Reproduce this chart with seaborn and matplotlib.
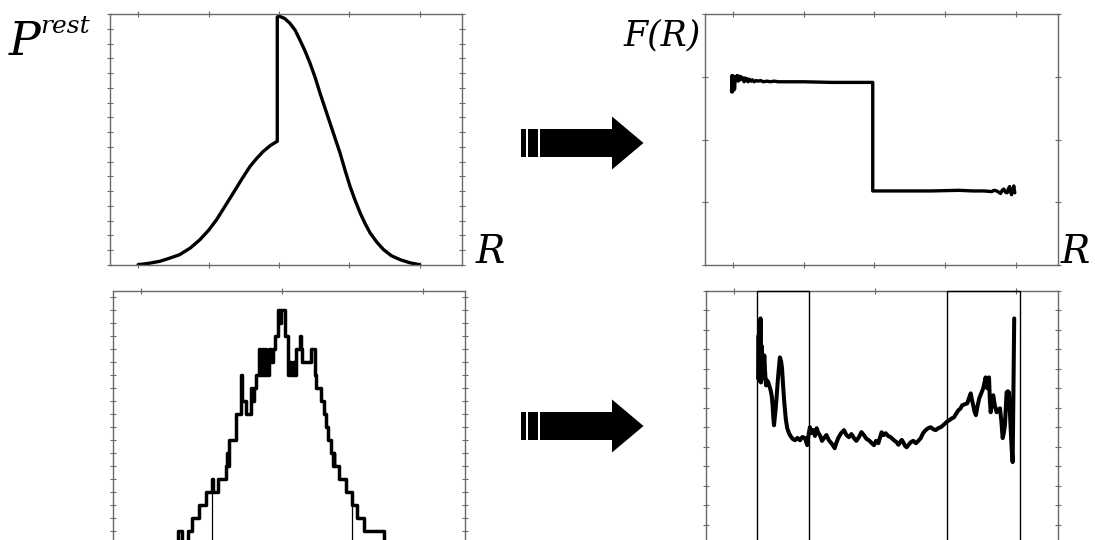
import numpy as np
import pandas as pd
import matplotlib
matplotlib.use("Agg")
import matplotlib.pyplot as plt
import seaborn as sns
from matplotlib.patches import Rectangle

# ---------------- data ----------------
# top-left: P^rest(R)
prest_r = [-1.0, -0.92, -0.847, -0.78, -0.705, -0.63, -0.562, -0.50, -0.443, -0.385,
           -0.325, -0.265, -0.206, -0.16, -0.112, -0.06, -0.012, -0.012, 0.0, 0.04,
           0.078, 0.115, 0.149, 0.185, 0.221, 0.257, 0.292, 0.328, 0.363, 0.398,
           0.434, 0.47, 0.505, 0.54, 0.577, 0.612, 0.648, 0.695, 0.743, 0.80,
           0.861, 0.93, 1.0]
prest_v = [0.02, 0.12, 0.25, 0.45, 0.70, 1.15, 1.71, 2.35, 3.07, 3.95,
           4.87, 5.80, 6.67, 7.20, 7.69, 8.10, 8.38, 16.80, 16.86, 16.70,
           16.37, 15.90, 15.24, 14.50, 13.66, 12.70, 11.63, 10.60, 9.60, 8.60,
           7.58, 6.40, 5.32, 4.40, 3.52, 2.80, 2.16, 1.55, 1.04, 0.62,
           0.36, 0.15, 0.02]

# top-right: F(R)
f_r = [-1.012, -1.008, -1.005, -1.001, -0.998, -0.994, -0.991, -0.986, -0.980, -0.973,
       -0.966, -0.959, -0.952, -0.945, -0.938, -0.930, -0.923, -0.916, -0.909, -0.902,
       -0.895, -0.884, -0.874, -0.863, -0.852, -0.838, -0.824, -0.806, -0.788, -0.760,
       -0.739, -0.710, -0.682, -0.5, -0.3, -0.1, -0.012, -0.012, 0.2, 0.4,
       0.597, 0.70, 0.774, 0.831, 0.848, 0.866, 0.880, 0.893, 0.905, 0.916,
       0.928, 0.940, 0.948, 0.957, 0.964, 0.971, 0.979, 0.987, 0.994]
f_v = [2.76, 3.02, 2.76, 3.01, 2.79, 3.00, 2.80, 2.98, 2.95, 3.02,
       2.93, 3.01, 2.95, 3.00, 2.96, 2.98, 2.92, 2.98, 2.94, 2.97,
       2.92, 2.96, 2.93, 2.95, 2.92, 2.94, 2.93, 2.94, 2.92, 2.93,
       2.92, 2.93, 2.92, 2.92, 2.91, 2.91, 2.91, 1.18, 1.18, 1.18,
       1.19, 1.18, 1.18, 1.17, 1.19, 1.18, 1.16, 1.14, 1.19, 1.21,
       1.16, 1.15, 1.21, 1.25, 1.17, 1.12, 1.20, 1.26, 1.15]

# bottom-left: sampled histogram (bin edges and counts)
hist_edges = [-0.740, -0.712, -0.669, -0.641, -0.591, -0.541, -0.498, -0.488, -0.456, -0.399,
              -0.388, -0.381, -0.377, -0.327, -0.288, -0.281, -0.256, -0.221, -0.210, -0.199,
              -0.185, -0.164, -0.153, -0.142, -0.132, -0.121, -0.114, -0.093, -0.078, -0.064,
              -0.050, -0.028, -0.011, -0.004, 0.021, 0.043, 0.053, 0.064, 0.075, 0.085,
              0.100, 0.128, 0.132, 0.142, 0.206, 0.235, 0.242, 0.278, 0.299, 0.310,
              0.327, 0.349, 0.359, 0.367, 0.370, 0.406, 0.456, 0.495, 0.534, 0.584,
              0.726]
hist_counts = [1, 0, 1, 2, 3, 4, 5, 4, 5, 6,
               7, 6, 8, 10, 13, 11, 10, 12, 11, 12,
               13, 15, 13, 15, 13, 15, 13, 15, 14, 15,
               16, 18, 17, 18, 16, 13, 14, 13, 14, 13,
               15, 16, 15, 14, 15, 13, 12, 11, 10, 9,
               8, 7, 6, 7, 6, 5, 4, 3, 2, 1]
hist_marks_r = [-0.498, 0.498]

# bottom-right: estimated F(R) from the samples
fs_r = [-0.829, -0.826, -0.824, -0.820, -0.817, -0.813, -0.810, -0.806, -0.803, -0.798,
        -0.793, -0.786, -0.780, -0.774, -0.766, -0.758, -0.741, -0.733, -0.727, -0.722,
        -0.717, -0.705, -0.698, -0.691, -0.683, -0.675, -0.667, -0.660, -0.652, -0.644,
        -0.633, -0.623, -0.611, -0.599, -0.584, -0.568, -0.550, -0.533, -0.515, -0.497,
        -0.481, -0.472, -0.462, -0.450, -0.438, -0.426, -0.414, -0.402, -0.391, -0.376,
        -0.362, -0.345, -0.327, -0.306, -0.286, -0.274, -0.261, -0.240, -0.220, -0.203,
        -0.185, -0.167, -0.149, -0.132, -0.114, -0.096, -0.078, -0.060, -0.043, -0.025,
        -0.007, 0.008, 0.024, 0.035, 0.047, 0.062, 0.076, 0.094, 0.111, 0.132,
        0.154, 0.166, 0.178, 0.190, 0.201, 0.213, 0.225, 0.240, 0.254, 0.272,
        0.291, 0.308, 0.325, 0.342, 0.360, 0.378, 0.396, 0.414, 0.431, 0.449,
        0.467, 0.484, 0.500, 0.514, 0.528, 0.545, 0.561, 0.577, 0.592, 0.606,
        0.620, 0.638, 0.656, 0.668, 0.680, 0.689, 0.698, 0.707, 0.717, 0.729,
        0.741, 0.755, 0.769, 0.778, 0.786, 0.792, 0.798, 0.804, 0.810, 0.816,
        0.822, 0.831, 0.840, 0.852, 0.864, 0.876, 0.888, 0.898, 0.907, 0.915,
        0.923, 0.929, 0.935, 0.944, 0.952, 0.958, 0.964, 0.971, 0.978, 0.984,
        0.989]
fs_v = [8.51, 10.72, 8.40, 11.00, 8.51, 11.59, 8.30, 10.20, 9.44, 8.90,
        8.51, 9.69, 8.80, 8.15, 8.40, 8.31, 7.90, 7.60, 7.13, 6.50,
        6.10, 6.97, 7.60, 8.31, 9.00, 9.59, 9.40, 9.03, 8.10, 7.28,
        6.40, 5.95, 5.70, 5.54, 5.40, 5.33, 5.45, 5.33, 5.50, 5.44,
        5.08, 5.60, 6.00, 5.70, 5.85, 5.55, 5.95, 5.70, 5.59, 5.30,
        5.44, 5.60, 5.33, 5.15, 4.92, 5.20, 5.44, 5.70, 5.85, 5.60,
        5.49, 5.65, 5.44, 5.30, 5.49, 5.75, 5.59, 5.40, 5.33, 5.20,
        5.08, 5.30, 5.18, 5.45, 5.74, 5.60, 5.69, 5.55, 5.49, 5.35,
        5.23, 5.10, 5.23, 5.35, 5.23, 5.05, 4.97, 5.10, 5.23, 5.30,
        5.18, 5.30, 5.44, 5.70, 5.85, 5.95, 6.00, 5.90, 5.85, 5.95,
        6.00, 6.10, 6.21, 6.30, 6.36, 6.45, 6.51, 6.70, 6.87, 6.95,
        7.13, 7.18, 7.23, 7.50, 7.74, 7.40, 7.13, 6.80, 6.62, 7.10,
        7.49, 7.75, 8.00, 8.30, 8.56, 8.10, 8.00, 8.40, 8.56, 7.40,
        6.77, 7.30, 7.64, 7.10, 6.77, 6.90, 6.97, 6.30, 5.44, 5.70,
        6.10, 7.00, 7.79, 7.85, 7.79, 6.80, 5.95, 4.90, 4.21, 8.00,
        11.59]
windows = [(-0.84, -0.47), (0.51, 1.03)]

# ---------------- figure ----------------
sns.set_style("white")
W, H = 1095, 540
fig = plt.figure(figsize=(W / 100, H / 100), dpi=100)

def px_axes(x0, y0, x1, y1):
    return fig.add_axes([x0 / W, (H - y1) / H, (x1 - x0) / W, (y1 - y0) / H])

GREY = "#6a6a6a"

def style(ax, ylim, yticks, xticks):
    ax.set_xlim(-1.2, 1.3)
    ax.set_ylim(*ylim)
    ax.set_xticks(xticks)
    ax.set_yticks(yticks)
    ax.tick_params(which="both", direction="inout", length=4, width=0.8, color=GREY,
                   top=True, right=True, bottom=True, left=True,
                   labelbottom=False, labelleft=False)
    for s in ax.spines.values():
        s.set_color(GREY)
        s.set_linewidth(1.0)
    ax.set_xlabel("")
    ax.set_ylabel("")
    ax.grid(False)

# top-left
ax1 = px_axes(110, 14, 462, 265)
sns.lineplot(x=prest_r, y=prest_v, ax=ax1, sort=False, estimator=None,
             color="black", linewidth=2.4)
style(ax1, (0, 17), np.arange(0, 18, 1), [-1, -0.5, 0, 0.5, 1])

# top-right
ax2 = px_axes(705, 14, 1058, 265)
sns.lineplot(x=f_r, y=f_v, ax=ax2, sort=False, estimator=None,
             color="black", linewidth=2.4)
style(ax2, (0, 4), np.arange(0, 5, 1), [-1, -0.5, 0, 0.5, 1])

# bottom-left
ax3 = px_axes(113, 291, 465, 544)
hx = [hist_edges[0]] + list(hist_edges)
hy = [0] + list(hist_counts) + [0]
sns.lineplot(x=hx, y=hy, ax=ax3, sort=False, estimator=None,
             color="black", linewidth=2.5, drawstyle="steps-post")
edges_arr = np.array(hist_edges)
for r in hist_marks_r:
    k = np.searchsorted(edges_arr, r, side="right") - 1
    ax3.vlines(r, 0, hist_counts[k], color="black", linewidth=0.9)
style(ax3, (0, 19.46), np.arange(0, 20, 1), [-1, 0, 1])

# bottom-right
ax4 = px_axes(706, 291, 1058, 544)
for a, b in windows:
    ax4.add_patch(Rectangle((a, 0), b - a, 13, fill=False, edgecolor="black",
                            linewidth=1.0, clip_on=False, zorder=3))
sns.lineplot(x=fs_r, y=fs_v, ax=ax4, sort=False, estimator=None,
             color="black", linewidth=2.9)
style(ax4, (0, 13), np.arange(0, 14, 1), [-1, 0, 1])

# overlay for arrows and labels (pixel coordinates)
ov = fig.add_axes([0, 0, 1, 1])
ov.set_xlim(0, W)
ov.set_ylim(H, 0)
ov.axis("off")

def arrow(cy):
    top, bot = cy - 14, cy + 14
    ov.fill([521, 526, 526, 521], [top, top, bot, bot], color="black", lw=0)
    ov.fill([528, 538, 538, 528], [top, top, bot, bot], color="black", lw=0)
    ov.fill([540, 612, 612, 643.5, 612, 612, 540],
            [top, top, cy - 26.5, cy, cy + 26.5, bot, bot], color="black", lw=0)

arrow(143)
arrow(426)

font = dict(family="DejaVu Serif", style="italic", color="black", va="baseline")
ov.text(9, 55, "P", fontsize=34, **font)
ov.text(40, 33, "rest", fontsize=18, **font)
ov.text(701, 45, "F(R)", fontsize=25, ha="right", **font)
ov.text(476, 263, "R", fontsize=28, **font)
ov.text(1061, 263, "R", fontsize=28, **font)

fig.savefig("out.png", dpi=100)
